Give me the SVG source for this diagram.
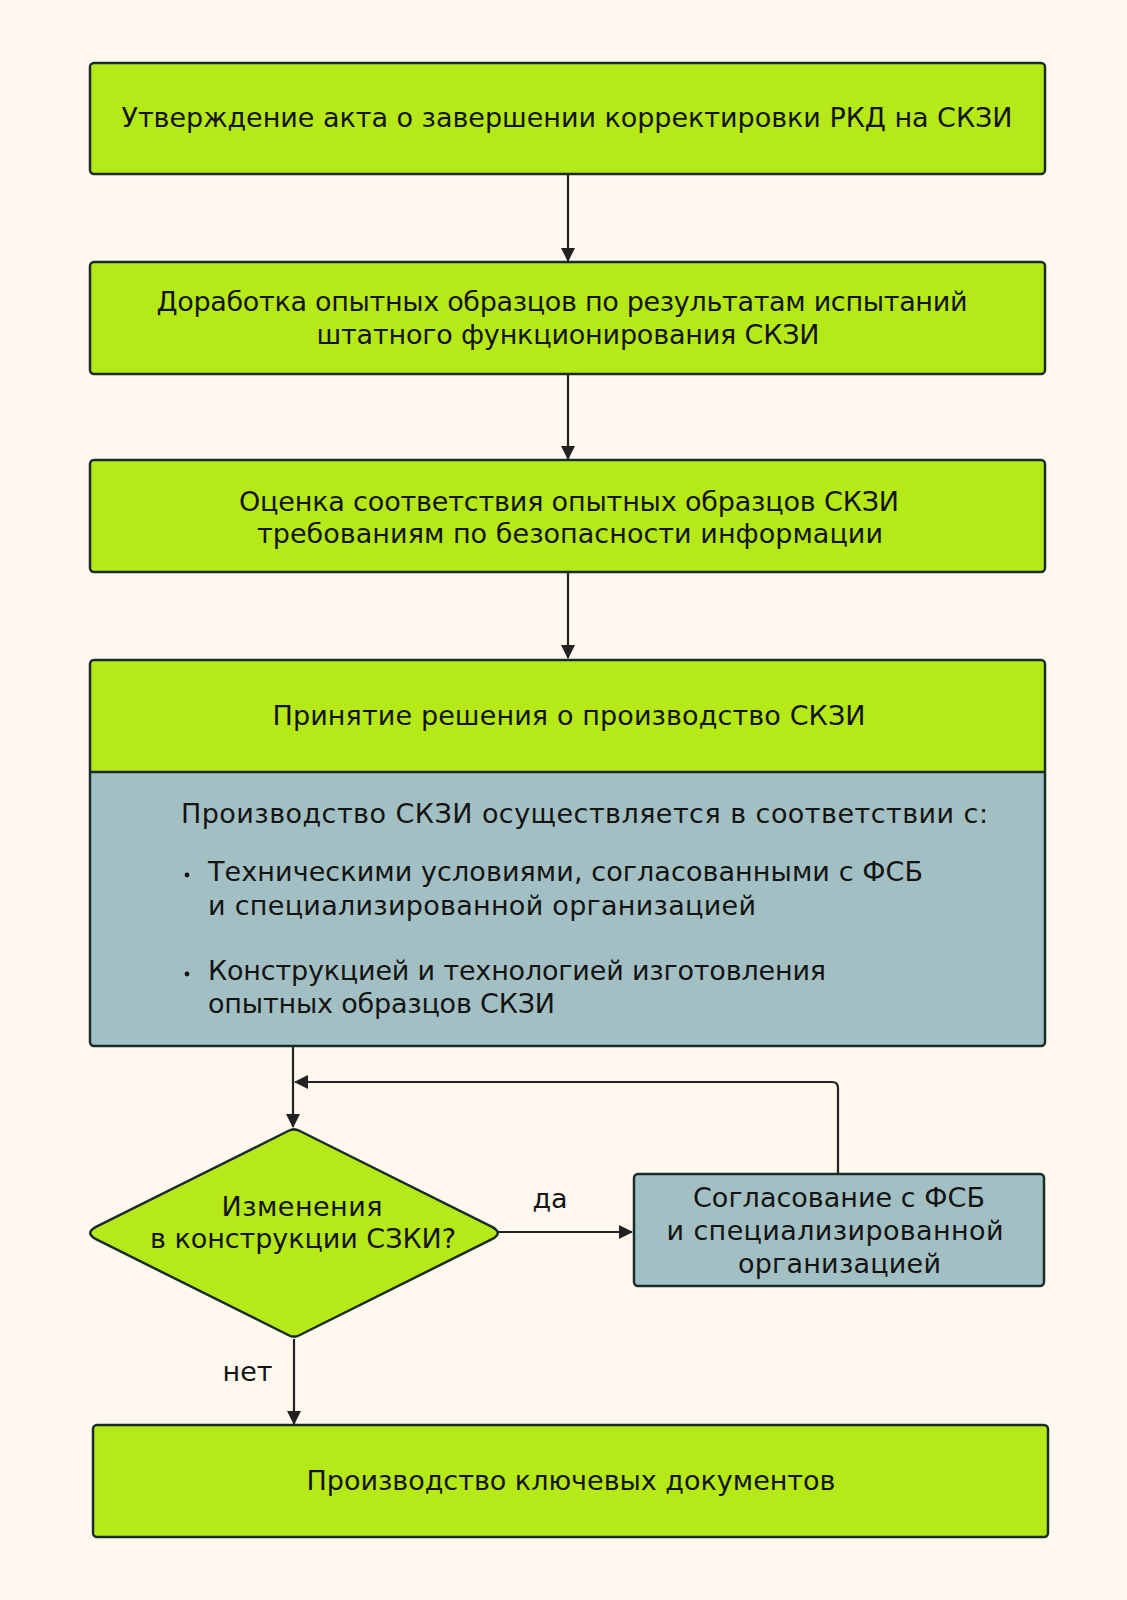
<svg xmlns="http://www.w3.org/2000/svg" width="1127" height="1600" viewBox="0 0 1127 1600">
<style>
.bg{fill:#FEF8EE}
.g{fill:#B5E917;stroke:#1A2C2A;stroke-width:2.5}
.b{fill:#A2C0C3;stroke:#1A2C2A;stroke-width:2.5}
.t{font-family:"DejaVu Sans","Noto Sans",sans-serif;font-size:27px;fill:#141414}
.c{text-anchor:middle}
.ln{fill:none;stroke:#222;stroke-width:2.2}
</style>
<defs>
<marker id="ah" markerUnits="userSpaceOnUse" markerWidth="14" markerHeight="14" viewBox="0 0 14 14" refX="13" refY="7" orient="auto">
<path d="M0,0 L14,7 L0,14 Z" fill="#222"/>
</marker>
</defs>
<rect class="bg" x="0" y="0" width="1127" height="1600"/>
<g id="connectors">
<line class="ln" x1="568" y1="175" x2="568" y2="261" marker-end="url(#ah)"/>
<line class="ln" x1="568" y1="375" x2="568" y2="459" marker-end="url(#ah)"/>
<line class="ln" x1="568" y1="573" x2="568" y2="658" marker-end="url(#ah)"/>
<line class="ln" x1="293" y1="1047" x2="293" y2="1127" marker-end="url(#ah)"/>
<path class="ln" d="M838,1174 L838,1088 Q838,1082 832,1082 L295,1082" marker-end="url(#ah)"/>
<line class="ln" x1="497" y1="1232" x2="632" y2="1232" marker-end="url(#ah)"/>
<line class="ln" x1="294" y1="1339" x2="294" y2="1424" marker-end="url(#ah)"/>
<text class="t c" x="550" y="1208">да</text>
<text class="t c" x="247.5" y="1381">нет</text>
</g>
<g id="n1">
<rect class="g" x="90" y="63" width="955" height="111" rx="4"/>
<text class="t c" x="567" y="127" textLength="891">Утверждение акта о завершении корректировки РКД на СКЗИ</text>
</g>
<g id="n2">
<rect class="g" x="90" y="262" width="955" height="112" rx="4"/>
<text class="t c" x="562" y="311" textLength="811">Доработка опытных образцов по результатам испытаний</text>
<text class="t c" x="568" y="344" textLength="503">штатного функционирования СКЗИ</text>
</g>
<g id="n3">
<rect class="g" x="90" y="460" width="955" height="112" rx="4"/>
<text class="t c" x="569" y="511" textLength="660">Оценка соответствия опытных образцов СКЗИ</text>
<text class="t c" x="570" y="543" textLength="626">требованиям по безопасности информации</text>
</g>
<g id="n4">
<path d="M94,660 L1041,660 Q1045,660 1045,664 L1045,772 L90,772 L90,664 Q90,660 94,660 Z" fill="#B5E917"/>
<path d="M90,772 L1045,772 L1045,1042 Q1045,1046 1041,1046 L94,1046 Q90,1046 90,1042 Z" fill="#A2C0C3"/>
<rect x="90" y="660" width="955" height="386" rx="4" fill="none" stroke="#1A2C2A" stroke-width="2.5"/>
<line x1="90" y1="772" x2="1045" y2="772" stroke="#1A2C2A" stroke-width="2.5"/>
<text class="t c" x="569" y="725" textLength="593">Принятие решения о производство СКЗИ</text>
<text class="t" x="181" y="823" textLength="807">Производство СКЗИ осуществляется в соответствии с:</text>
<circle cx="187" cy="875" r="2.4" fill="#141414"/>
<text class="t" x="208" y="881" textLength="715">Техническими условиями, согласованными с ФСБ</text>
<text class="t" x="208" y="915" textLength="548">и специализированной организацией</text>
<circle cx="187" cy="974" r="2.4" fill="#141414"/>
<text class="t" x="208" y="980" textLength="618">Конструкцией и технологией изготовления</text>
<text class="t" x="208" y="1013" textLength="347">опытных образцов СКЗИ</text>
</g>
<g id="n5">
<path class="g" d="M96.45,1226.59 L288.66,1130.75 Q294,1128 299.34,1130.75 L491.55,1226.59 Q504,1233 491.55,1239.41 L299.34,1335.25 Q294,1338 288.66,1335.25 L96.45,1239.41 Q84,1233 96.45,1226.59 Z"/>
<text class="t c" x="302" y="1216" textLength="161">Изменения</text>
<text class="t c" x="303" y="1248" textLength="306">в конструкции СЗКИ?</text>
</g>
<g id="n6">
<rect class="b" x="634" y="1174" width="410" height="112" rx="4"/>
<text class="t c" x="839" y="1207" textLength="292">Согласование с ФСБ</text>
<text class="t c" x="835" y="1240" textLength="337">и специализированной</text>
<text class="t c" x="839.5" y="1273" textLength="203">организацией</text>
</g>
<g id="n7">
<rect class="g" x="93" y="1425" width="955" height="112" rx="4"/>
<text class="t c" x="571" y="1490" textLength="529">Производство ключевых документов</text>
</g>
</svg>
